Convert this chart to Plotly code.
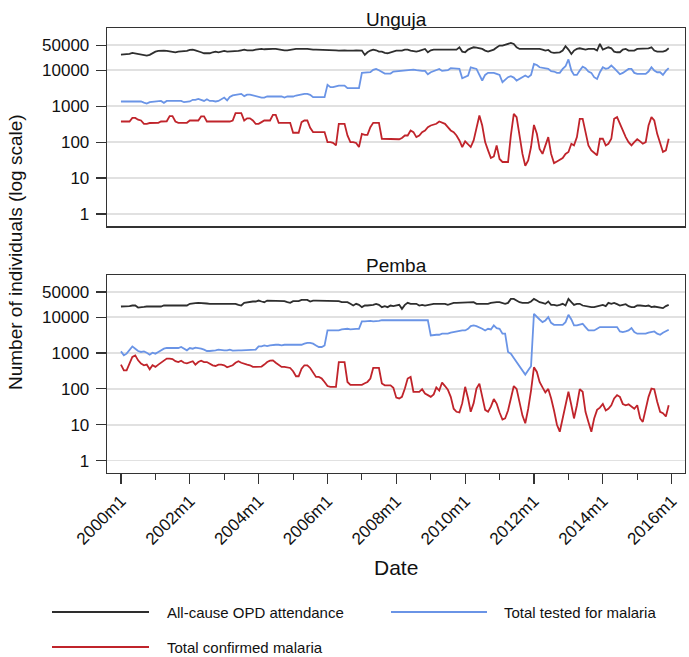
import pandas as pd
import plotly.graph_objects as go

# ---------------- data (monthly, 2000m1 .. 2015m12) ----------------
dates = pd.date_range("2000-01-01", periods=192, freq="MS")

unguja_opd = [
    27200, 27200, 27200, 28400, 30300, 29000, 27800, 26700, 25500, 25500, 26700, 30300,
    33000, 34400, 35200, 35200, 34400, 33700, 33000, 31600, 33000, 33000, 33700, 34400,
    36700, 37500, 35900, 34400, 31600, 29700, 29700, 29700, 31600, 33000, 31600, 33000,
    34400, 33000, 33000, 33000, 33700, 34400, 35900, 37500, 35900, 35200, 35900, 37500,
    39100, 39100, 38300, 39100, 39100, 39100, 39100, 37500, 35900, 35900, 35900, 37500,
    39100, 39100, 39100, 38300, 39100, 39100, 37500, 37500, 37500, 37500, 37500, 37500,
    37500, 36700, 35900, 35900, 35200, 35900, 35900, 35200, 34400, 35200, 35900, 35200,
    35200, 26700, 31600, 35200, 37500, 35900, 33000, 33000, 30300, 29700, 31600, 34400,
    35200, 35200, 35200, 37500, 37500, 35200, 34400, 33000, 34400, 37500, 39100, 31600,
    35900, 37500, 37500, 37500, 37500, 37500, 37500, 37500, 35900, 37500, 43500, 33000,
    31600, 37500, 40700, 43500, 42700, 40700, 39100, 35200, 33000, 35200, 37500, 42700,
    48400, 48400, 50400, 53800, 57500, 53800, 43500, 39100, 39100, 39100, 39100, 40800,
    39100, 39100, 39100, 37500, 35200, 36700, 31600, 30300, 30300, 31600, 35200, 46400,
    37500, 28400, 35200, 39100, 40800, 39100, 37500, 39100, 39100, 39100, 35200, 53800,
    37500, 40800, 43500, 40800, 33000, 31600, 31600, 37500, 39100, 35200, 35200, 35200,
    39100, 39100, 39100, 39100, 40800, 43500, 35200, 33000, 33000, 33000, 35200, 40800,
]
unguja_tested = [
    1350, 1350, 1350, 1350, 1380, 1400, 1400, 1350, 1250, 1180, 1300, 1330,
    1350, 1350, 1400, 1240, 1400, 1400, 1400, 1380, 1400, 1400, 1290, 1290,
    1350, 1500, 1500, 1600, 1500, 1400, 1550, 1400, 1400, 1350, 1400, 1600,
    1740, 1450, 1800, 2000, 2070, 2070, 2200, 1900, 2100, 2100, 2000, 1870,
    1740, 1740, 1740, 1860, 1860, 1860, 1860, 1860, 1860, 1740, 1860, 1860,
    1860, 1980, 2070, 2200, 2200, 2200, 2070, 1780, 1780, 1780, 1780, 1780,
    3920, 3370, 3370, 3590, 3750, 3750, 3750, 3160, 3160, 3160, 3160, 3160,
    8440, 8440, 8440, 8800, 10200, 10900, 10000, 8800, 8080, 8080, 8080, 9200,
    9400, 9400, 9800, 10200, 10200, 10400, 10400, 10000, 9600, 9600, 9600, 7740,
    8800, 9600, 10400, 10900, 9600, 9600, 10000, 11400, 11400, 11400, 10900, 6000,
    6400, 7100, 12100, 11400, 10900, 7400, 5170, 7400, 8440, 8440, 8440, 7900,
    7400, 4640, 5380, 6400, 6800, 6250, 5170, 5700, 6400, 7100, 6400, 7400,
    15000, 14000, 12100, 11800, 11400, 10900, 9400, 9200, 8440, 8440, 10900, 12900,
    20000, 9800, 7400, 7400, 9800, 12600, 11400, 9200, 8440, 6400, 5700, 8800,
    12100, 10900, 11400, 13500, 11400, 9200, 7740, 8440, 9800, 10900, 10900, 8440,
    7900, 7900, 7900, 7900, 9200, 12100, 9800, 8800, 8800, 7400, 9600, 11400,
]
unguja_confirmed = [
    375, 375, 375, 375, 470, 470, 420, 400, 323, 323, 340, 340,
    340, 345, 375, 375, 380, 530, 530, 375, 345, 345, 345, 345,
    400, 400, 400, 400, 520, 520, 375, 370, 375, 380, 375, 370,
    375, 375, 375, 400, 640, 650, 640, 400, 460, 460, 400, 323,
    323, 360, 400, 400, 400, 570, 570, 345, 345, 345, 345, 345,
    182, 182, 182, 360, 400, 400, 250, 190, 190, 190, 190, 190,
    100, 100, 95, 81, 323, 323, 323, 153, 100, 100, 95, 73,
    170, 160, 160, 261, 345, 345, 345, 124, 124, 124, 124, 120,
    120, 120, 130, 153, 153, 211, 190, 138, 153, 190, 211, 261,
    290, 305, 323, 375, 345, 323, 261, 211, 190, 153, 111, 73,
    105, 85, 73, 111, 261, 550, 290, 100, 59, 36, 40, 81,
    34, 28, 28, 28, 153, 612, 495, 153, 47, 22, 31, 73,
    300, 170, 65, 47, 81, 138, 47, 26, 29, 33, 36, 47,
    53, 90, 81, 138, 445, 445, 211, 81, 59, 50, 43, 124,
    124, 81, 90, 124, 445, 495, 323, 190, 138, 100, 81, 100,
    120, 105, 90, 100, 290, 495, 400, 170, 97, 53, 59, 124,
]
pemba_opd = [
    19800, 19800, 19800, 20300, 21100, 21100, 18500, 18500, 19300, 19800, 19800, 19800,
    19800, 19800, 19800, 21100, 21100, 21100, 22000, 21100, 21100, 21100, 21100, 21100,
    23500, 23500, 24500, 25000, 25000, 25000, 24000, 23500, 23500, 23500, 23500, 23500,
    23500, 22400, 23500, 23500, 23500, 22000, 21100, 25000, 26100, 27300, 27300, 27300,
    29000, 27300, 26100, 29000, 29000, 29000, 27900, 27900, 27900, 27900, 26100, 25000,
    27900, 27900, 27900, 30300, 30300, 30300, 27300, 29000, 29000, 29000, 29000, 29000,
    29000, 29000, 29000, 29000, 27900, 26100, 26100, 26100, 23500, 21100, 23500, 22000,
    19000, 21100, 21100, 21100, 22000, 23500, 22000, 19000, 20300, 19000, 21100, 20300,
    21100, 22000, 17000, 22000, 25000, 23500, 23500, 23500, 21100, 22000, 21100, 22000,
    23500, 23500, 23500, 23500, 23500, 23500, 22000, 23500, 25000, 25000, 25000, 25000,
    25000, 25000, 26100, 26100, 23500, 23500, 23500, 23500, 23500, 25000, 26100, 26100,
    26100, 25000, 23500, 25000, 32300, 32300, 29000, 26100, 25000, 25000, 25000, 27300,
    32300, 29000, 26100, 25000, 23500, 27300, 22000, 22000, 21100, 22000, 23500, 21100,
    32300, 26100, 22000, 23500, 23500, 21100, 20300, 19000, 19000, 19000, 20300, 21100,
    22000, 20300, 25000, 23500, 25000, 23000, 21100, 22000, 23000, 20300, 19000, 19000,
    21100, 21100, 20300, 20300, 21100, 19000, 19800, 19000, 19000, 17800, 20300, 22000,
]
pemba_tested = [
    1110, 860, 960, 1190, 1530, 1320, 1140, 1070, 1110, 1020, 900, 1020,
    960, 1070, 1190, 1320, 1380, 1380, 1380, 1320, 1380, 1470, 1320, 1190,
    1380, 1320, 1410, 1380, 1320, 1240, 1140, 1140, 1140, 1190, 1240, 1190,
    1190, 1190, 1240, 1160, 1190, 1190, 1190, 1190, 1190, 1190, 1190, 1240,
    1530, 1530, 1630, 1560, 1630, 1700, 1700, 1700, 1630, 1700, 1700, 1700,
    1700, 1700, 1700, 1700, 1820, 1920, 1920, 1820, 1630, 1470, 1470, 1630,
    4260, 4260, 4260, 4260, 4260, 4540, 4740, 4740, 4540, 4740, 4740, 4740,
    7580, 7580, 7900, 7900, 7580, 7580, 7900, 8200, 8200, 8200, 8200, 8200,
    8200, 8200, 8200, 8200, 8200, 8400, 8400, 8200, 8200, 8200, 8200, 8200,
    3100, 3230, 3230, 3230, 3450, 3450, 3450, 3680, 3830, 4000, 4260, 4260,
    4260, 4740, 5630, 5880, 5630, 5280, 4740, 4260, 4740, 4540, 5880, 4950,
    4740, 3450, 3450, 1070, 960, 726, 560, 455, 330, 250, 330, 430,
    12400, 10000, 8600, 7260, 8100, 10000, 6950, 6120, 6120, 6120, 6120, 7260,
    11600, 8600, 5880, 5880, 6120, 6530, 5280, 4260, 4260, 4260, 4740, 5280,
    5280, 5280, 5280, 5280, 5280, 5280, 4000, 3830, 4000, 4260, 4950, 3830,
    3450, 3450, 3450, 3450, 3680, 3830, 4000, 3450, 3230, 3680, 4000, 4440,
]
pemba_confirmed = [
    475, 330, 330, 505, 775, 860, 625, 505, 455, 475, 352, 455,
    410, 475, 535, 610, 700, 700, 675, 590, 560, 610, 535, 515,
    560, 590, 475, 560, 610, 560, 560, 505, 455, 435, 475, 475,
    455, 400, 435, 455, 535, 590, 535, 495, 475, 455, 410, 410,
    410, 420, 475, 560, 610, 625, 535, 455, 410, 410, 400, 383,
    310, 225, 225, 365, 455, 455, 383, 297, 215, 215, 194, 156,
    120, 114, 114, 114, 560, 560, 560, 156, 130, 130, 130, 130,
    130, 143, 156, 194, 383, 383, 383, 141, 126, 126, 126, 108,
    57, 54, 60, 102, 194, 215, 83, 83, 83, 98, 74, 67,
    60, 70, 110, 90, 150, 120, 95, 60, 28, 23, 22, 40,
    114, 54, 23, 40, 102, 140, 65, 26, 23, 32, 52, 39,
    22, 14, 15, 25, 54, 120, 100, 45, 18, 11, 28, 90,
    400, 297, 156, 110, 80, 100, 55, 25, 10, 6.4, 15, 35,
    83, 35, 15, 35, 98, 83, 23, 12, 6.4, 15, 26, 30,
    38, 25, 28, 35, 54, 67, 60, 38, 35, 37, 32, 28,
    35, 15, 12, 28, 60, 102, 98, 44, 23, 21, 17, 35,
]

panel_titles = ["Unguja", "Pemba"]
series_names = ["All-cause OPD attendance", "Total tested for malaria", "Total confirmed malaria"]
series_colors = ["#2e2e2e", "#6a94e6", "#c0242b"]

y_tick_vals = [1, 10, 100, 1000, 10000, 50000]
y_tick_text = ["1", "10", "100", "1000", "10000", "50000"]
x_tick_text = ["2000m1", "2002m1", "2004m1", "2006m1", "2008m1",
               "2010m1", "2012m1", "2014m1", "2016m1"]
x_tick_vals = [f"{t[:4]}-01-01" for t in x_tick_text]
x_minor_vals = [f"{y}-01-01" for y in range(2001, 2016, 2)]

FONT = "Liberation Sans, Arial, sans-serif"
W, H = 689, 657
ML, MR, MT, MB = 107, 4, 28, 184
plot_w = W - ML - MR
plot_h = H - MT - MB


def px_x(px):
    return (px - ML) / plot_w


def px_y(py):
    return (H - MB - py) / plot_h


fig = go.Figure()
panels = [
    ("x", "y", [unguja_opd, unguja_tested, unguja_confirmed]),
    ("x2", "y2", [pemba_opd, pemba_tested, pemba_confirmed]),
]
for xa, ya, series in panels:
    for name, vals, col in zip(series_names, series, series_colors):
        fig.add_trace(go.Scatter(
            x=dates[:len(vals)], y=vals, mode="lines", name=name,
            line=dict(color=col, width=1.8), xaxis=xa, yaxis=ya,
            showlegend=False, hoverinfo="skip"))

x_range = ["1999-08-06", "2016-05-22"]
y_range = [-0.345, 5.175]

common_y = dict(
    type="log", range=y_range, tickvals=y_tick_vals, ticktext=y_tick_text,
    ticks="outside", ticklen=10, tickwidth=1.2, tickcolor="#333333",
    ticklabelstandoff=3,
    showgrid=True, gridcolor="#e1e1e1", gridwidth=1.6,
    showline=True, linecolor="#333333", linewidth=1.3, mirror=True,
    zeroline=False, tickfont=dict(family=FONT, size=17, color="#111111"),
)
common_x = dict(
    type="date", range=x_range, showgrid=False, zeroline=False,
    showline=True, linecolor="#333333", linewidth=1.3, mirror=True,
)

upper_bottom = 1 - 198.4 / plot_h
lower_top = 198.0 / plot_h

fig.update_layout(
    width=W, height=H,
    margin=dict(l=ML, r=MR, t=MT, b=MB, pad=0),
    paper_bgcolor="white", plot_bgcolor="white",
    font=dict(family=FONT, color="#111111"),
    showlegend=False,
    xaxis=dict(common_x, anchor="y", domain=[0, 1], showticklabels=False, ticks=""),
    yaxis=dict(common_y, anchor="x", domain=[upper_bottom, 1]),
    xaxis2=dict(common_x, anchor="y2", domain=[0, 1],
                tickmode="array", tickvals=x_tick_vals, ticktext=x_tick_text,
                tickangle=-45, ticks="outside", ticklen=10, tickwidth=1.2,
                tickcolor="#333333",
                tickfont=dict(family=FONT, size=17, color="#111111"),
                minor=dict(tickmode="array", tickvals=x_minor_vals,
                           ticks="outside", ticklen=6, tickwidth=1.2,
                           tickcolor="#333333", showgrid=False)),
    yaxis2=dict(common_y, anchor="x2", domain=[0, lower_top]),
)

annotations = [
    dict(text=panel_titles[0], x=0.5, y=px_y(19), xref="paper", yref="paper",
         showarrow=False, xanchor="center", yanchor="middle",
         font=dict(family=FONT, size=19, color="#111111")),
    dict(text=panel_titles[1], x=0.5, y=px_y(265), xref="paper", yref="paper",
         showarrow=False, xanchor="center", yanchor="middle",
         font=dict(family=FONT, size=19, color="#111111")),
    dict(text="Date", x=0.5, y=px_y(567), xref="paper", yref="paper",
         showarrow=False, xanchor="center", yanchor="middle",
         font=dict(family=FONT, size=21, color="#111111")),
    dict(text="Number of individuals (log scale)", x=px_x(15), y=px_y(252),
         xref="paper", yref="paper", showarrow=False, textangle=-90,
         xanchor="center", yanchor="middle",
         font=dict(family=FONT, size=19, color="#111111")),
]

# manual legend (long line keys, as in the original)
legend_slots = [(52, 149, 165, 612), (391, 487, 502, 612), (52, 149, 165, 647)]
shapes = []
for (x0, x1, xt, yy), name, col in zip(legend_slots, series_names, series_colors):
    shapes.append(dict(type="line", xref="paper", yref="paper",
                       x0=px_x(x0), x1=px_x(x1), y0=px_y(yy), y1=px_y(yy),
                       line=dict(color=col, width=2.2)))
    annotations.append(dict(text=name, x=px_x(xt), y=px_y(yy), xref="paper",
                            yref="paper", showarrow=False, xanchor="left",
                            yanchor="middle",
                            font=dict(family=FONT, size=15, color="#111111")))

fig.update_layout(annotations=annotations, shapes=shapes)
fig.write_html(
    "out.html",
    config={"displayModeBar": False, "staticPlot": True},
    post_script="document.body.style.margin='0';document.body.style.overflow='hidden';",
)
